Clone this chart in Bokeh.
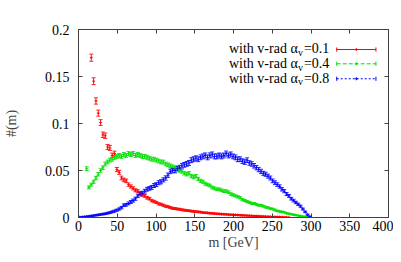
from bokeh.plotting import figure
from bokeh.models import (ColumnDataSource, Whisker, TeeHead, LinearAxis, FixedTicker,
                          CustomLabelingPolicy)
from bokeh.core.properties import value
from bokeh.embed import file_html
from bokeh.resources import INLINE

BIN = 3.0
x_ticks = [0, 50, 100, 150, 200, 250, 300, 350, 400]
y_ticks = [0, 0.05, 0.1, 0.15, 0.2]
y_tick_labels = ["0", "0.05", "0.1", "0.15", "0.2"]

labels = ["with v-rad \u03b1", "with v-rad \u03b1", "with v-rad \u03b1"]
label_subs = ["v", "v", "v"]
label_vals = ["=0.1", "=0.4", "=0.8"]

red_start = 16.5
red_y = [0.170, 0.145, 0.124, 0.111, 0.101, 0.088, 0.087, 0.075, 0.074, 0.066,
         0.068, 0.051, 0.048, 0.042, 0.040, 0.039, 0.035, 0.033, 0.031, 0.029,
         0.028, 0.026, 0.024, 0.023, 0.021, 0.020, 0.018, 0.017, 0.016, 0.0145,
         0.014, 0.013, 0.012, 0.0115, 0.0105, 0.0098, 0.0095, 0.009, 0.0088, 0.0082,
         0.0078, 0.0075, 0.0072, 0.0068, 0.0065, 0.0062, 0.006, 0.0057, 0.0053, 0.005,
         0.0049, 0.0046, 0.0044, 0.0042, 0.004, 0.0038, 0.0036, 0.0035, 0.0033, 0.0031,
         0.003, 0.0028, 0.0027, 0.0026, 0.0024, 0.0023, 0.0022, 0.002, 0.0019, 0.0018,
         0.0017, 0.0015, 0.0014, 0.0013, 0.0012, 0.0011, 0.001, 0.0009, 0.0008, 0.0007,
         0.0006, 0.0005, 0.0004, 0.0003, 0.0002, 0.0001]
red_err = [.0038, .0036, .0034, .0032, .0031, .0029, .0029, .0027, .0027, .0025,
           .0026, .0022, .0021, .0020, .0019, .0019, .0018, .0017, .0017, .0016,
           .0016, .0015, .0015, .0015, .0014, .0014, .0013, .0013, .0012, .0012,
           .0011, .0011, .0011, .0010, .0010, .0010, .0010, .0009, .0009, .0009,
           .0009, .0008, .0008, .0008, .0008, .0008, .0008, .0007, .0007, .0007,
           .0007, .0007, .0007, .0006, .0006, .0006, .0006, .0006, .0006, .0005,
           .0005, .0005, .0005, .0005, .0005, .0005, .0004, .0004, .0004, .0004,
           .0004, .0004, .0004, .0003, .0003, .0003, .0003, .0003, .0003, .0003,
           .0002, .0002, .0002, .0002, .0002, .0001]

green_start = 10.5
green_y = [0.052, 0.032, 0.035, 0.038, 0.042, 0.046, 0.050, 0.053, 0.057, 0.059,
           0.061, 0.062, 0.064, 0.065, 0.066, 0.065, 0.067, 0.066, 0.068, 0.067,
           0.068, 0.066, 0.067, 0.066, 0.065, 0.065, 0.064, 0.063, 0.062, 0.062,
           0.061, 0.060, 0.059, 0.059, 0.057, 0.056, 0.055, 0.054, 0.053, 0.052,
           0.050, 0.049, 0.047, 0.046, 0.047, 0.044, 0.043, 0.044, 0.041, 0.039,
           0.038, 0.036, 0.035, 0.034, 0.032, 0.031, 0.030, 0.030, 0.029, 0.028,
           0.028, 0.027, 0.025, 0.024, 0.023, 0.022, 0.021, 0.019, 0.018, 0.017,
           0.016, 0.015, 0.015, 0.014, 0.013, 0.013, 0.012, 0.011, 0.0105, 0.0095,
           0.009, 0.008, 0.007, 0.0065, 0.006, 0.0055, 0.0045, 0.004, 0.0035, 0.003,
           0.0025, 0.002, 0.0016, 0.0012, 0.0008, 0.0004, 0.0001]
green_err = [.0020, .0016, .0017, .0017, .0018, .0018, .0019, .0019, .0020, .0020,
             .0020, .0020, .0021, .0021, .0021, .0021, .0021, .0021, .0021, .0021,
             .0021, .0021, .0021, .0021, .0021, .0021, .0021, .0020, .0020, .0020,
             .0020, .0020, .0020, .0020, .0019, .0019, .0019, .0019, .0019, .0019,
             .0018, .0018, .0018, .0018, .0018, .0017, .0017, .0017, .0017, .0016,
             .0016, .0016, .0015, .0015, .0015, .0015, .0014, .0014, .0014, .0014,
             .0014, .0013, .0013, .0013, .0012, .0012, .0012, .0011, .0011, .0011,
             .0010, .0010, .0010, .0010, .0009, .0009, .0009, .0009, .0008, .0008,
             .0008, .0008, .0007, .0007, .0007, .0006, .0006, .0005, .0005, .0005,
             .0004, .0004, .0004, .0003, .0003, .0002, .0001]

blue_start = 1.5
blue_y = [0.0003, 0.0005, 0.0008, 0.001, 0.0013, 0.0017, 0.002, 0.0024, 0.0028, 0.0032,
          0.0036, 0.004, 0.0046, 0.0052, 0.006, 0.0068, 0.0078, 0.009, 0.0105, 0.013,
          0.0135, 0.015, 0.0165, 0.018, 0.020, 0.023, 0.025, 0.026, 0.028, 0.030,
          0.031, 0.032, 0.034, 0.035, 0.037, 0.038, 0.040, 0.042, 0.045, 0.049,
          0.050, 0.050, 0.052, 0.053, 0.055, 0.056, 0.057, 0.058, 0.061, 0.062,
          0.063, 0.062, 0.064, 0.065, 0.066, 0.064, 0.066, 0.067, 0.065, 0.065,
          0.066, 0.065, 0.066, 0.068, 0.066, 0.067, 0.065, 0.064, 0.062, 0.062,
          0.060, 0.059, 0.061, 0.058, 0.057, 0.055, 0.053, 0.051, 0.049, 0.047,
          0.046, 0.044, 0.042, 0.039, 0.037, 0.035, 0.033, 0.030, 0.028, 0.025,
          0.023, 0.020, 0.018, 0.016, 0.014, 0.012, 0.009, 0.006, 0.003, 0.001]
blue_err = [.0002, .0003, .0004, .0004, .0005, .0005, .0006, .0006, .0007, .0007,
            .0008, .0008, .0009, .0009, .0010, .0011, .0011, .0012, .0013, .0014,
            .0014, .0015, .0016, .0016, .0017, .0018, .0019, .0019, .0020, .0020,
            .0020, .0021, .0021, .0021, .0022, .0022, .0022, .0023, .0023, .0024,
            .0024, .0024, .0025, .0025, .0025, .0025, .0026, .0026, .0026, .0026,
            .0026, .0026, .0026, .0026, .0027, .0026, .0027, .0027, .0026, .0026,
            .0026, .0026, .0026, .0027, .0026, .0027, .0026, .0026, .0026, .0025,
            .0025, .0025, .0025, .0024, .0024, .0024, .0023, .0023, .0023, .0022,
            .0022, .0021, .0021, .0020, .0020, .0019, .0018, .0018, .0017, .0016,
            .0015, .0014, .0014, .0013, .0012, .0011, .0010, .0008, .0006, .0004]

series = [
    (red_start, red_y, red_err, "#ff0000", "solid"),
    (green_start, green_y, green_err, "#00e000", "4 2"),
    (blue_start, blue_y, blue_err, "#0000ff", "2 2"),
]

FONT_NAME = "'Liberation Serif', serif"
FONT = value(FONT_NAME)
AXC = "#404040"

p = figure(width=393, height=254, x_range=(0, 400), y_range=(0, 0.2),
           output_backend="svg", toolbar_location=None,
           min_border_left=73, min_border_right=4, min_border_top=29, min_border_bottom=37)
p.xgrid.visible = False
p.ygrid.visible = False
p.outline_line_color = AXC
p.background_fill_color = "white"
p.border_fill_color = "white"

hide_labels = CustomLabelingPolicy(code="const ids = [...indices]; for (const i of ids) { indices.unset(i) }; return indices")

def style_axis(ax, ticks, show_labels):
    ax.ticker = FixedTicker(ticks=ticks)
    ax.major_tick_in = 4
    ax.major_tick_out = 0
    ax.minor_tick_line_color = None
    ax.axis_line_color = AXC
    ax.major_tick_line_color = AXC
    ax.major_label_text_font = FONT_NAME
    ax.major_label_text_color = "black"
    ax.major_label_text_font_size = "14px"
    if not show_labels:
        ax.major_label_text_font_size = "1px"
        ax.major_label_standoff = 0
        ax.major_label_policy = hide_labels

xa = p.xaxis[0]
style_axis(xa, x_ticks, True)
xa.major_label_standoff = 3
xa.axis_label = "m [GeV]"
xa.axis_label_text_font = FONT_NAME
xa.axis_label_text_font_style = "normal"
xa.axis_label_text_font_size = "14px"
xa.axis_label_standoff = 1

ya = p.yaxis[0]
style_axis(ya, y_ticks, True)
ya.major_label_overrides = {t: l for t, l in zip(y_ticks, y_tick_labels)}
ya.major_label_standoff = 9
ya.axis_label = "#(m)"
ya.axis_label_text_font = FONT_NAME
ya.axis_label_text_font_style = "normal"
ya.axis_label_text_font_size = "14px"
ya.axis_label_standoff = 23

top = LinearAxis()
style_axis(top, x_ticks, False)
p.add_layout(top, "above")
right = LinearAxis()
style_axis(right, y_ticks, False)
p.add_layout(right, "right")

for start, ys, es, col, dash in series:
    xs = [start + BIN * i for i in range(len(ys))]
    src = ColumnDataSource(dict(x=xs, y=ys,
                                upper=[y + e for y, e in zip(ys, es)],
                                lower=[y - e for y, e in zip(ys, es)]))
    w = Whisker(source=src, base="x", upper="upper", lower="lower",
                line_color=col, line_width=1, line_alpha=0.85,
                upper_head=TeeHead(size=4, line_color=col, line_width=1, line_alpha=0.85),
                lower_head=TeeHead(size=4, line_color=col, line_width=1, line_alpha=0.85))
    p.add_layout(w)
    p.scatter("x", "y", source=src, marker="cross", size=3, line_color=col, line_alpha=0.85)

# legend (layout positions in data units)
leg_rows = [0.1787, 0.1635, 0.1476]
text_right = 282.9
eq_left = 290.9
sx0, sx1 = 333.2, 383.8
cap = 0.0022
for i, (start, ys, es, col, dash) in enumerate(series):
    yy = leg_rows[i]
    p.text(x=[text_right], y=[yy + 0.0006], text=[labels[i]], text_font=FONT,
           text_font_size="14px", text_align="right", text_baseline="middle", text_color="black")
    p.text(x=[text_right + 0.3], y=[yy - 0.0034], text=[label_subs[i]], text_font=FONT,
           text_font_size="10px", text_align="left", text_baseline="middle", text_color="black")
    p.text(x=[eq_left], y=[yy + 0.0006], text=[label_vals[i]], text_font=FONT,
           text_font_size="14px", text_align="left", text_baseline="middle", text_color="black")
    p.segment(x0=[sx0], y0=[yy], x1=[sx1], y1=[yy], line_color=col, line_width=1, line_dash=dash)
    p.segment(x0=[sx0, sx1], y0=[yy - cap, yy - cap], x1=[sx0, sx1], y1=[yy + cap, yy + cap],
              line_color=col, line_width=1)
    p.scatter(x=[(sx0 + sx1) / 2], y=[yy], marker="cross", size=3, line_color=col)

open("out.html", "w").write(file_html(p, INLINE))
